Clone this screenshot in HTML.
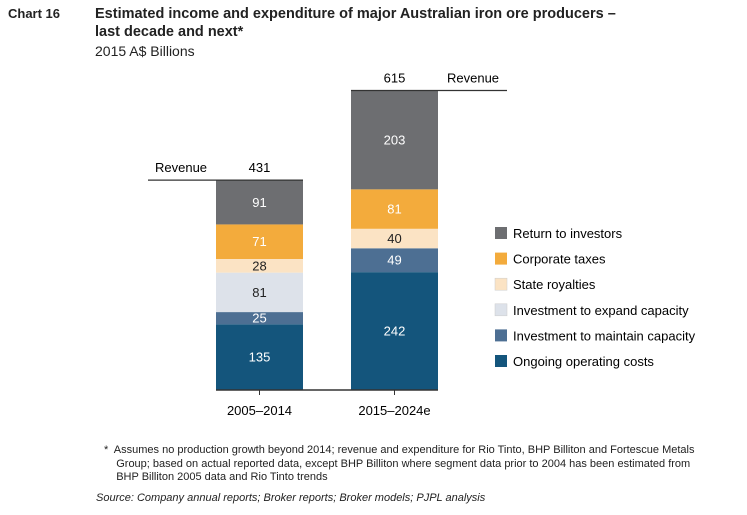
<!DOCTYPE html>
<html><head><meta charset="utf-8"><style>
body{margin:0;width:747px;height:515px;background:#fff;font-family:"Liberation Sans",sans-serif;color:#222;overflow:hidden}
.t{position:absolute;white-space:nowrap}
</style></head><body>
<div class="t" style="left:8px;top:6px;font-size:13px;font-weight:bold">Chart 16</div>
<div class="t" style="left:95px;top:5px;font-size:14.5px;font-weight:bold;line-height:18px">Estimated income and expenditure of major Australian iron ore producers –<br>last decade and next*</div>
<div class="t" style="left:95px;top:43px;font-size:14px">2015 A$ Billions</div>
<svg id="c" width="747" height="515" style="position:absolute;left:0;top:0"></svg>
<div class="t" style="left:104px;top:444px;font-size:11px;line-height:13.5px">*&nbsp; Assumes no production growth beyond 2014; revenue and expenditure for Rio Tinto, BHP Billiton and Fortescue Metals<br>&nbsp;&nbsp;&nbsp; Group; based on actual reported data, except BHP Billiton where segment data prior to 2004 has been estimated from<br>&nbsp;&nbsp;&nbsp; BHP Billiton 2005 data and Rio Tinto trends</div>
<div class="t" style="left:96px;top:492px;font-size:11px;font-style:italic">Source: Company annual reports; Broker reports; Broker models; PJPL analysis</div>
<script>
const categories=["2005–2014","2015–2024e"];
const seriesNames=["Ongoing operating costs","Investment to maintain capacity","Investment to expand capacity","State royalties","Corporate taxes","Return to investors"];
const opCosts=[135,242];
const maintain=[25,49];
const expand=[81,0];
const royalties=[28,40];
const taxes=[71,81];
const returns=[91,203];
const revenue=[431,615];
const series=[opCosts,maintain,expand,royalties,taxes,returns];
const colors=["#14557c","#4d6f93","#dde2ea","#fbe3c4","#f3ab3c","#6d6e71"];
const textCol=["#fff","#fff","#222","#222","#fff","#fff"];
const svg=document.getElementById('c');const NS='http://www.w3.org/2000/svg';
const base=390,k=0.487;
const y=v=>base-v*k;
const barX=[216,351],bw=87;
function mk(t,a){const e=document.createElementNS(NS,t);for(const q in a)e.setAttribute(q,a[q]);svg.appendChild(e);return e;}
categories.forEach((c,i)=>{
  let cum=0;
  series.forEach((s,j)=>{
    const v=s[i];if(!v)return;
    const r=mk('rect',{x:barX[i],y:y(cum+v),width:bw,height:v*k,fill:colors[j]});
    
    
    const t=mk('text',{x:barX[i]+bw/2,y:y(cum+v/2)+4.5,'text-anchor':'middle','font-size':13,fill:textCol[j]});
    t.textContent=v;
    
    
    cum+=v;
  });
  const cx=barX[i]+bw/2;
  mk('line',{x1:cx,x2:cx,y1:base,y2:base+5,stroke:'#333'});
  const l=mk('text',{x:cx,y:415,'text-anchor':'middle','font-size':13});
  l.textContent=c;
  
  
  const ry=y(revenue[i]);
  const x1=i==0?148:barX[i],x2=i==0?barX[i]+bw:507;
  mk('line',{x1:x1,x2:x2,y1:ry,y2:ry,stroke:'#333','stroke-width':1.2});
  const rv=mk('text',{x:cx,y:ry-8,'text-anchor':'middle','font-size':13});
  rv.textContent=revenue[i];
  
  
  const rl=mk('text',{x:i==0?155:447,y:ry-8,'font-size':13});
  rl.textContent='Revenue';
  
  
});
mk('line',{x1:216,x2:438,y1:base,y2:base,stroke:'#333','stroke-width':1.5});
for(let j=5;j>=0;j--){
  const ly=233+(5-j)*25.6;
  const r=mk('rect',{x:495,y:ly-6,width:12,height:12,fill:colors[j],stroke:j==2||j==3?'#ccc':'none','stroke-width':0.5});
  
  
  const t=mk('text',{x:513,y:ly+5,'font-size':13});
  t.textContent=seriesNames[j];
  
  
}
</script>
</body></html>
